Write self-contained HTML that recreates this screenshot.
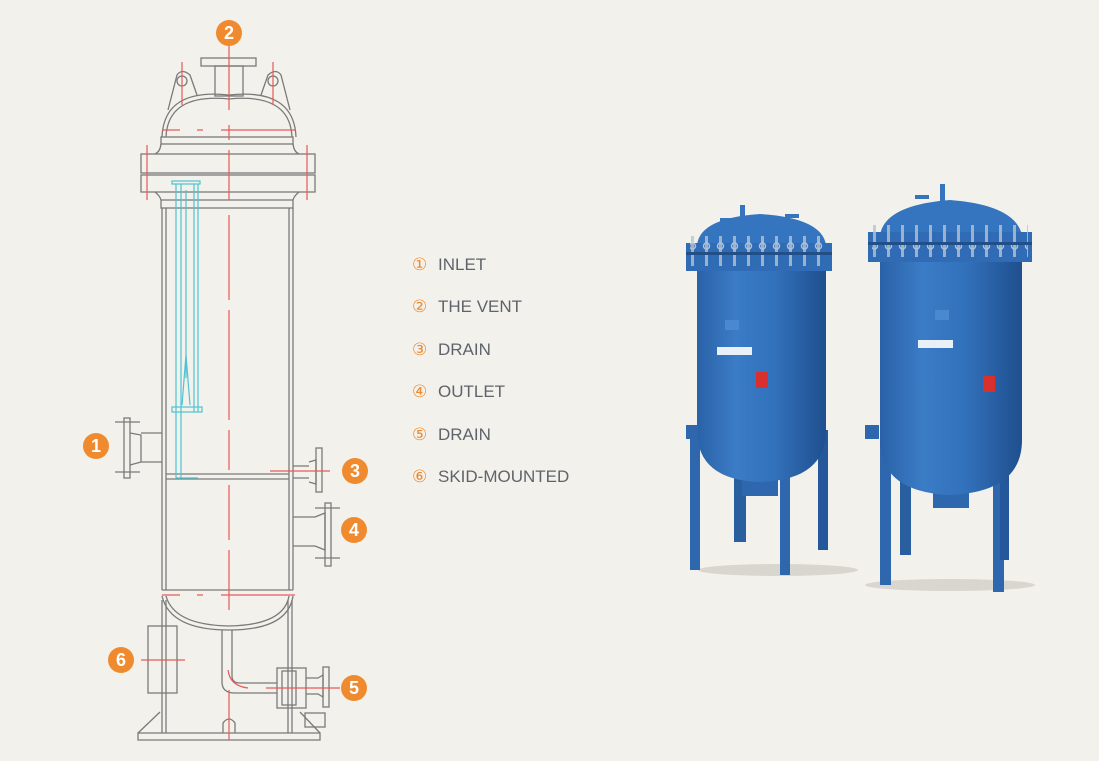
<!DOCTYPE html>
<html><head><meta charset="utf-8"><style>
html,body{margin:0;padding:0;background:#f2f1eb;}
body{width:1099px;height:761px;position:relative;overflow:hidden;font-family:"Liberation Sans",sans-serif;}
.lg{position:absolute;left:412px;font-size:17px;color:#5f646c;}
.lg b{font-weight:normal;color:#f08a30;display:inline-block;width:26px;}
</style></head><body>
<svg width="1099" height="761" style="position:absolute;left:0;top:0">
<defs>
<linearGradient id="tb" x1="0" x2="1"><stop offset="0" stop-color="#2a62a8"/><stop offset="0.3" stop-color="#3b7cc6"/><stop offset="0.6" stop-color="#3271bb"/><stop offset="1" stop-color="#1f4f8e"/></linearGradient>
<pattern id="bolts" width="14" height="30" patternUnits="userSpaceOnUse"><rect x="5" y="0" width="3" height="30" fill="#b9c3cf"/><circle cx="6.5" cy="6" r="3" fill="none" stroke="#cfd6de" stroke-width="1.5"/></pattern>
</defs>
<g fill="none" stroke="#7a7a7a" stroke-width="1.3">
<rect x="201" y="58" width="55" height="8"/>
<rect x="215" y="66" width="28" height="30"/>
<path d="M162 137 Q164 88 229 95 Q294 88 296 137"/>
<path d="M166 137 Q168 93 229 99 Q290 93 292 137"/>
<path d="M168 110 L177 75 Q182 68 190 75 L197 95"/>
<path d="M290 110 L281 75 Q276 68 268 75 L261 95"/>
<circle cx="182" cy="81" r="5"/><circle cx="273" cy="81" r="5"/>
<rect x="161" y="137" width="132" height="7"/>
<path d="M161 144 Q160 152 155 154 M293 144 Q294 152 299 154"/>
<rect x="141" y="154" width="174" height="19"/>
<rect x="141" y="175" width="174" height="17"/>
<path d="M155 192 Q160 196 161 200 M299 192 Q294 196 293 200"/>
<rect x="161" y="200" width="132" height="8"/>
<path d="M162 208 V590 M166 208 V590 M289 208 V590 M293 208 V590"/>
<path d="M166 474 H289 M166 479 H289"/>
<path d="M162 590 H293"/>
<path d="M162 596 Q170 630 229 630 Q288 630 293 596"/>
<path d="M166 596 Q174 625 229 626 Q284 625 289 596"/>
<path d="M162 600 V733 M166 600 V733 M288 600 V733 M292 600 V733"/>
<path d="M138 733 H320 V740 H138 Z"/>
<path d="M138 733 L160 712 M320 733 L300 712"/>
<path d="M223 733 V723 Q229 715 235 723 V733"/>
<rect x="124" y="418" width="6" height="60"/>
<path d="M130 433 L141 435 V462 L130 465 M141 433 H162 M141 462 H162"/>
<path d="M115 422 H140 M115 472 H140"/>
<path d="M293 466 H309 M293 478 H309 M309 462 L316 460 V484 L309 482"/>
<rect x="316" y="448" width="6" height="44"/>
<path d="M293 517 H315 M293 546 H315 M315 517 L325 513 V550 L315 546"/>
<rect x="325" y="503" width="6" height="63"/>
<path d="M315 508 H340 M315 558 H340"/>
<rect x="148" y="626" width="29" height="67"/>
<path d="M222 630 V682 Q222 693 235 693 H277 M232 630 V676 Q232 683 240 683 H277"/>
<rect x="277" y="668" width="29" height="40"/>
<rect x="282" y="671" width="14" height="34"/>
<path d="M306 678 H318 L323 675 V697 L318 694 H306"/>
<rect x="323" y="667" width="6" height="40"/>
<rect x="305" y="713" width="20" height="14"/>
</g>
<g stroke="#e85a5a" stroke-width="1.2" fill="none">
<path d="M229 42 V110 M229 125 V140 M229 150 V200 M229 215 V300 M229 310 V420 M229 430 V470 M229 485 V540 M229 550 V610 M229 690 V740" />
<path d="M182 62 V105 M273 62 V105 M147 145 V200 M307 145 V200"/>
<path d="M162 130 H180 M197 130 H203 M221 130 H295"/>
<path d="M162 595 H180 M197 595 H203 M221 595 H295"/>
<path d="M270 471 H330 M266 688 H340 M228 670 Q230 686 248 688 M141 660 H185"/>
</g>
<g fill="none" stroke="#4dc3d3" stroke-width="1.2">
<rect x="172" y="181" width="28" height="3"/>
<path d="M176 184 V478 M181 184 V478 M194 184 V412 M198 184 V412 M186 190 V378"/>
<path d="M176 478 H198"/>
<rect x="172" y="407" width="30" height="5"/>
<path d="M186 355 L182 405 M186 355 L190 405"/>
</g>
<g fill="#f08a2e">
<circle cx="229" cy="33" r="13"/><circle cx="96" cy="446" r="13"/><circle cx="355" cy="471" r="13"/>
<circle cx="354" cy="530" r="13"/><circle cx="354" cy="688" r="13"/><circle cx="121" cy="660" r="13"/>
</g>
<g fill="#fff" font-family="Liberation Sans" font-weight="bold" font-size="18" text-anchor="middle">
<text x="229" y="39">2</text><text x="96" y="452">1</text><text x="355" y="477">3</text>
<text x="354" y="536">4</text><text x="354" y="694">5</text><text x="121" y="666">6</text>
</g>
<g>
<ellipse cx="778" cy="570" rx="80" ry="6" fill="#d8d6cf"/>
<rect x="690" y="430" width="10" height="140" fill="#2e67ad"/>
<rect x="734" y="440" width="12" height="102" fill="#2a5f9f"/>
<rect x="780" y="430" width="10" height="145" fill="#2e67ad"/>
<rect x="818" y="430" width="10" height="120" fill="#25589a"/>
<rect x="742" y="478" width="36" height="18" fill="#2e67ad"/>
<path d="M697 265 H826 V430 Q826 480 760 482 Q697 480 697 430 Z" fill="url(#tb)"/>
<path d="M697 245 Q700 218 760 214 Q822 218 826 245 Z" fill="#3575bf"/>
<rect x="686" y="243" width="146" height="28" fill="#2f6cb5"/>
<rect x="690" y="236" width="138" height="30" fill="url(#bolts)" opacity="0.8"/>
<rect x="686" y="252" width="146" height="3" fill="#234f87"/>
<rect x="740" y="205" width="5" height="20" fill="#3575bf"/>
<rect x="720" y="218" width="14" height="4" fill="#3575bf"/><rect x="785" y="214" width="14" height="4" fill="#3575bf"/>
<rect x="725" y="320" width="14" height="10" fill="#4a89cf"/>
<rect x="717" y="347" width="35" height="8" fill="#eaf0f8"/>
<rect x="756" y="372" width="12" height="16" fill="#d8302c"/>
<rect x="686" y="425" width="12" height="14" fill="#2e67ad"/>
</g>
<g>
<ellipse cx="950" cy="585" rx="85" ry="6" fill="#d8d6cf"/>
<rect x="880" y="430" width="11" height="155" fill="#2e67ad"/>
<rect x="900" y="450" width="11" height="105" fill="#2a5f9f"/>
<rect x="993" y="430" width="11" height="162" fill="#2e67ad"/>
<rect x="1000" y="430" width="9" height="130" fill="#25589a"/>
<rect x="933" y="490" width="36" height="18" fill="#2e67ad"/>
<path d="M880 255 H1022 V440 Q1022 492 950 495 Q880 492 880 440 Z" fill="url(#tb)"/>
<path d="M880 235 Q885 205 950 200 Q1015 205 1022 235 Z" fill="#3575bf"/>
<rect x="868" y="232" width="164" height="30" fill="#2f6cb5"/>
<rect x="872" y="225" width="156" height="32" fill="url(#bolts)" opacity="0.8"/>
<rect x="868" y="242" width="164" height="3" fill="#234f87"/>
<rect x="940" y="184" width="5" height="22" fill="#3575bf"/>
<rect x="915" y="195" width="14" height="4" fill="#3575bf"/><rect x="965" y="210" width="14" height="4" fill="#3575bf"/>
<rect x="935" y="310" width="14" height="10" fill="#4a89cf"/>
<rect x="918" y="340" width="35" height="8" fill="#eaf0f8"/>
<rect x="983" y="376" width="12" height="16" fill="#d8302c"/>
<rect x="865" y="425" width="14" height="14" fill="#2e67ad"/>
</g>
</svg>
<div class="lg" style="top:255px"><b>①</b>INLET</div>
<div class="lg" style="top:297px"><b>②</b>THE VENT</div>
<div class="lg" style="top:340px"><b>③</b>DRAIN</div>
<div class="lg" style="top:382px"><b>④</b>OUTLET</div>
<div class="lg" style="top:425px"><b>⑤</b>DRAIN</div>
<div class="lg" style="top:467px"><b>⑥</b>SKID-MOUNTED</div>
</body></html>
